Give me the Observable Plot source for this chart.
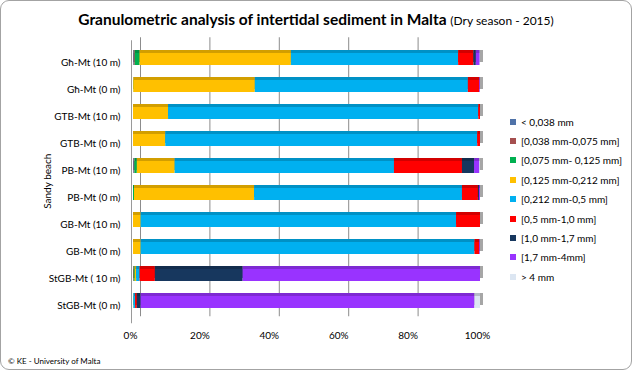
<!DOCTYPE html>
<html><head><meta charset="utf-8">
<script src="https://cdn.jsdelivr.net/npm/d3@7"></script>
<script src="https://cdn.jsdelivr.net/npm/@observablehq/plot@0.6"></script>
<style>
body{margin:0;background:#fff;font-family:Lato,"Open Sans",sans-serif;}
#root{position:relative;width:632px;height:370px;overflow:hidden;background:#fff;}
#chart{position:absolute;left:0;top:0;}
#frame{position:absolute;left:0;top:0;width:632px;height:370px;box-sizing:border-box;border:1px solid #a3a3a3;border-radius:9px;pointer-events:none;}
#title{position:absolute;left:0;top:10px;width:632px;text-align:center;font-weight:bold;font-size:15.5px;color:#000;white-space:nowrap;}
#title span{font-weight:normal;font-size:12px;}
#legend{position:absolute;left:510px;top:112px;font-size:10px;color:#000;}
.li{height:19.4px;display:flex;align-items:center;white-space:nowrap;}
.sw{width:6px;height:6px;margin-right:5px;flex:none;}
#foot{position:absolute;left:8px;top:356px;font-size:8px;color:#000;}
</style>
</head><body>
<div id="root">
  <div id="chart"></div>
  <div id="title">Granulometric analysis of intertidal sediment in Malta <span>(Dry season - 2015)</span></div>
  <div id="legend"></div>
  <div id="foot">© KE - University of Malta</div>
  <div id="frame"></div>
</div>
<script>
// Categories (top to bottom)
const rows = ["Għ-Mt (10 m)", "Għ-Mt (0 m)", "GTB-Mt (10 m)", "GTB-Mt (0 m)", "PB-Mt (10 m)",
              "PB-Mt (0 m)", "GB-Mt (10 m)", "GB-Mt (0 m)", "StGB-Mt ( 10 m)", "StGB-Mt (0 m)"];
// Grain size classes (legend labels)
const classes = ["< 0,038 mm", "[0,038 mm-0,075 mm]", "[0,075 mm- 0,125 mm]", "[0,125 mm-0,212 mm]",
                 "[0,212 mm-0,5 mm]", "[0,5 mm-1,0 mm]", "[1,0 mm-1,7 mm]", "[1,7 mm-4mm]", "> 4 mm"];
const colors = ["#4f72a8", "#a54f4f", "#00b050", "#ffc000", "#00b0f0", "#ff0000", "#17375e", "#9933ff", "#dce6f2"];
// Series values (% per row, same order as rows)
const lt0038    = [0.2, 0,    0,    0,    0.2,  0,    0,    0,    0,    0];
const c0038_075 = [0.3, 0,    0,    0,    0.2,  0,    0,    0,    0.2,  0];
const c075_125  = [1.4, 0.1,  0,    0,    0.7,  0.3,  0,    0,    0.3,  0];
const c125_212  = [43.6,35.0, 10.1, 9.3,  10.9, 34.6, 2.2,  2.2,  0.4,  0.1];
const c212_500  = [48.2,61.4, 89.4, 89.9, 63.2, 59.9, 90.9, 96.2, 1.0,  0.5];
const c05_10    = [4.4, 3.3,  0.5,  0.8,  19.6, 4.6,  6.9,  1.4,  4.4,  0.5];
const c10_17    = [0.7, 0,    0,    0,    3.5,  0.3,  0,    0,    25.3, 1.1];
const c17_40    = [1.1, 0.2,  0,    0,    1.5,  0.3,  0,    0.2,  68.4, 96.2];
const gt4       = [0.1, 0,    0,    0,    0.2,  0,    0,    0,    0,    1.6];
const xTicks = [0, 20, 40, 60, 80, 100];
const gridTicks = [0, 20, 40, 60, 80];

const series = [lt0038, c0038_075, c075_125, c125_212, c212_500, c05_10, c10_17, c17_40, gt4];
const data = [];
rows.forEach((r, i) => series.forEach((s, k) => data.push({row: r, cls: classes[k], k, value: s[i], color: colors[k], dark: d3.color(colors[k]).darker(0.55).formatHex()})));

const chart = Plot.plot({
  width: 632, height: 370,
  marginLeft: 133, marginRight: 152, marginTop: 43.25, marginBottom: 51.75,
  style: {fontFamily: "Lato, 'Open Sans', sans-serif", fontSize: "10px", background: "transparent", color: "#000"},
  x: {domain: [0, 100]},
  y: {domain: rows, paddingInner: 0.56, paddingOuter: 0.28},
  marks: [
    Plot.ruleX(gridTicks, {stroke: "#8c8c8c", strokeWidth: 1, dx: 7, insetTop: -6, insetBottom: 2}),
    Plot.ruleX([0], {stroke: "#9a9a9a", strokeWidth: 1, dx: -2, insetTop: -3, insetBottom: -5}),
    Plot.barX(rows, {x1: 0, x2: 100, y: d => d, fill: "#a6a6a6", dx: 3, dy: -3}),
    Plot.barX(data, Plot.stackX({x: "value", y: "row", z: "k", fill: "dark", order: null, dy: -3})),
    Plot.barX(data, Plot.stackX({x: "value", y: "row", z: "k", fill: "color", order: null})),
    Plot.axisY({tickSize: 0, tickPadding: 13, dy: 3, fontSize: 10, label: "Sandy beach", labelAnchor: "center", labelOffset: 90, labelArrow: "none"}),
    Plot.axisX({ticks: xTicks, tickFormat: d => d + "%", tickSize: 0, tickPadding: 13, dx: -3, label: null})
  ]
});
document.getElementById("chart").appendChild(chart);

const lg = document.getElementById("legend");
classes.forEach((c, k) => {
  const div = document.createElement("div");
  div.className = "li";
  const sw = document.createElement("span");
  sw.className = "sw"; sw.style.background = colors[k];
  const t = document.createElement("span");
  t.textContent = c;
  div.appendChild(sw); div.appendChild(t);
  lg.appendChild(div);
});
</script>
</body></html>
